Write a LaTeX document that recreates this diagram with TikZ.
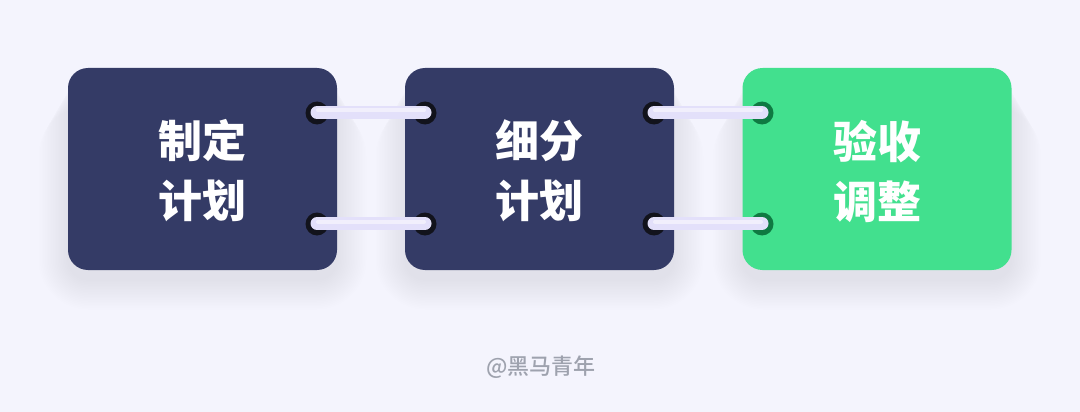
\documentclass[tikz,border=0pt]{standalone}
\usepackage{fontspec}
\newfontfamily\cjk{Noto Sans CJK SC}
\newfontfamily\cjkblack{Noto Sans CJK SC Black}
\newfontfamily\cjkmed{Noto Sans CJK SC Medium}
\definecolor{bg}{HTML}{F4F4FD}
\definecolor{navy}{HTML}{343B66}
\definecolor{mint}{HTML}{42E08E}
\definecolor{ring}{HTML}{12131C}
\definecolor{ringg}{HTML}{0F7A42}
\definecolor{bar}{HTML}{E3E0FA}
\definecolor{wm}{HTML}{9EA2AE}
\definecolor{shd}{HTML}{C4C4E2}
\tikzset{
  x=1pt,y=-1pt,
  card/.style={rounded corners=20pt, minimum width=269pt, minimum height=202pt, inner sep=0pt},
  cardtxt/.style={text=white, font=\cjkblack\fontsize{44}{60}\selectfont, align=center},
  hole/.style={circle, minimum size=23pt, inner sep=0pt, fill=ring},
  holeg/.style={circle, minimum size=23pt, inner sep=0pt, fill=ringg},
  barline/.style={line width=13pt, line cap=round, draw=bar},
  barhi/.style={line width=4pt, line cap=round, draw=white, draw opacity=0.5},
}
\newcommand{\cardshadow}[1]{%
  \foreach \k in {0,...,18}{
    \fill[shd, opacity=0.014, rounded corners={20pt+1.6*\k pt}]
      ([xshift=-1.6*\k pt, yshift=-1.6*\k pt-10pt]#1.north west) rectangle ([xshift=1.6*\k pt, yshift=-1.6*\k pt-10pt]#1.south east);
  }}
\begin{document}
\begin{tikzpicture}
\fill[bg] (0,0) rectangle (1080,412);
\useasboundingbox (0,0) rectangle (1080,412);
\coordinate (s1) at (202.5,169);
\coordinate (s2) at (539.5,169);
\coordinate (s3) at (877,169);
\node[card] (g1) at (s1) {};
\node[card] (g2) at (s2) {};
\node[card] (g3) at (s3) {};
\cardshadow{g1}\cardshadow{g2}\cardshadow{g3}
\node[card, fill=navy] (c1) at (s1) {};
\node[card, fill=navy] (c2) at (s2) {};
\node[card, fill=mint] (c3) at (s3) {};
\node[cardtxt] (t1) at ([yshift=-2pt]c1.center) {制定\\计划};
\node[cardtxt] (t2) at ([yshift=-2pt]c2.center) {细分\\计划};
\node[cardtxt] (t3) at ([yshift=-2pt]c3.center) {验收\\调整};
% holes
\node[hole] (h1a) at (317,113) {};
\node[hole] (h1b) at (317,224) {};
\node[hole] (h2a) at (425,113) {};
\node[hole] (h2b) at (425,224) {};
\node[hole] (h3a) at (654,113) {};
\node[hole] (h3b) at (654,224) {};
\node[holeg] (h4a) at (762,113) {};
\node[holeg] (h4b) at (762,224) {};
% bars
\foreach \a/\b in {h1a/h2a,h1b/h2b,h3a/h4a,h3b/h4b}{
  \draw[barline] ([yshift=0.5pt]\a.center) -- ([yshift=0.5pt]\b.center);
  \draw[barhi] ([xshift=1pt,yshift=2.5pt]\a.center) -- ([xshift=-1pt,yshift=2.5pt]\b.center);
}
\node[text=wm, font=\cjkmed\fontsize{22}{26}\selectfont] (wmk) at (541,367) {@黑马青年};
\end{tikzpicture}
\end{document}
